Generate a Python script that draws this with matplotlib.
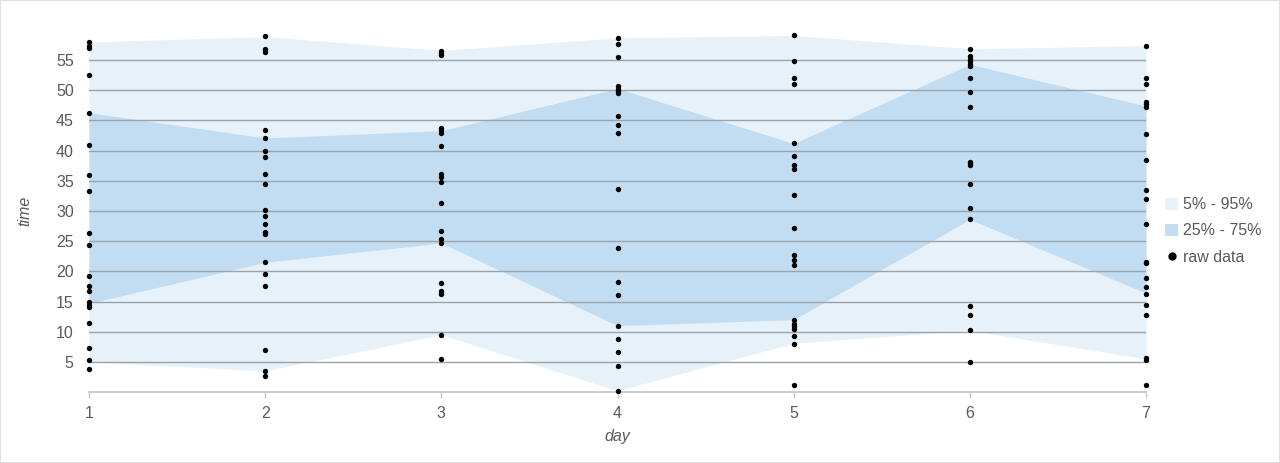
import numpy as np
import matplotlib
matplotlib.use("Agg")
import matplotlib.pyplot as plt
from matplotlib.patches import Patch
from matplotlib.lines import Line2D

plt.rcParams["font.family"] = ["Liberation Sans", "DejaVu Sans"]

days = [1, 2, 3, 4, 5, 6, 7]

# percentile bands
p05 = [5.0, 3.5, 9.5, 0.2, 8.1, 10.2, 5.5]
p25 = [14.7, 21.5, 24.7, 11.0, 12.0, 28.6, 16.4]
p75 = [46.3, 42.1, 43.3, 50.3, 41.2, 54.3, 47.4]
p95 = [58.0, 58.9, 56.6, 58.7, 59.1, 56.9, 57.4]

# raw measurements per day
raw_1 = [58.0, 57.4, 57.0, 52.6, 46.3, 41.0, 36.0, 33.3, 26.4, 24.3, 19.3,
         17.5, 16.8, 14.9, 14.5, 14.1, 11.5, 7.3, 5.3, 3.8]
raw_2 = [59.0, 56.8, 56.4, 43.4, 42.1, 39.9, 38.9, 36.2, 34.5, 30.2, 29.1,
         27.8, 26.5, 26.2, 21.5, 19.6, 17.6, 7.0, 3.4, 2.6]
raw_3 = [56.55, 56.2, 55.9, 43.7, 43.4, 42.96, 40.7, 36.2, 35.6, 34.8, 31.35,
         26.7, 25.4, 24.7, 18.1, 16.7, 16.3, 9.5, 5.55]
raw_4 = [58.7, 57.7, 55.5, 50.7, 50.25, 49.85, 49.5, 45.8, 44.2, 42.96, 33.7,
         23.8, 18.3, 16.1, 11.0, 8.86, 6.6, 4.3, 0.2]
raw_5 = [59.15, 54.8, 52.0, 51.0, 41.2, 39.15, 37.7, 36.9, 32.7, 27.2, 22.7,
         21.8, 21.1, 11.96, 11.35, 10.9, 10.47, 9.3, 8.0, 1.1]
raw_6 = [56.9, 55.7, 55.2, 54.8, 54.4, 54.1, 52.0, 49.75, 47.2, 38.2, 38.0,
         37.7, 34.5, 30.5, 28.6, 14.3, 12.8, 10.2, 5.0]
raw_7 = [57.4, 52.0, 51.0, 48.0, 47.7, 47.3, 42.7, 38.4, 33.4, 32.0, 27.8,
         21.6, 21.3, 18.9, 17.4, 16.2, 14.45, 12.7, 5.66, 5.3, 1.1]
raw = [raw_1, raw_2, raw_3, raw_4, raw_5, raw_6, raw_7]

light = "#e6f1fa"
mid = "#c2ddf1"
grid_c = "#9aa3ab"
text_c = "#595959"

fig = plt.figure(figsize=(12.8, 4.63), dpi=100)
ax = fig.add_axes([89 / 1280, 71 / 463, (1146 - 89) / 1280, (392 - 30) / 463])

ax.fill_between(days, p05, p95, color=light, lw=0, zorder=1)
ax.fill_between(days, p25, p75, color=mid, lw=0, zorder=2)

for y in range(5, 60, 5):
    ax.axhline(y, color=grid_c, lw=1, zorder=3)

for d, vals in zip(days, raw):
    ax.scatter([d] * len(vals), vals, s=15, color="black", lw=0, zorder=4,
               clip_on=False)

ax.set_xlim(1, 7)
ax.set_ylim(0, 60)
ax.set_xticks(days)
ax.set_yticks(range(5, 60, 5))
for s in ["top", "right", "left"]:
    ax.spines[s].set_visible(False)
ax.spines["bottom"].set_color("#c4c8cc")
ax.spines["bottom"].set_linewidth(1.3)
ax.tick_params(axis="x", colors="#c4c8cc", length=4, width=1, labelcolor=text_c,
               labelsize=11.5, pad=6)
ax.tick_params(axis="y", length=0, labelcolor=text_c, labelsize=11.5, pad=11)

ax.set_xlabel("day", style="italic", color=text_c, fontsize=11.5, labelpad=6)
ax.set_ylabel("time", style="italic", color=text_c, fontsize=11.5, labelpad=17)

handles = [
    Patch(facecolor=light, edgecolor="none", label="5% - 95%"),
    Patch(facecolor=mid, edgecolor="none", label="25% - 75%"),
    Line2D([], [], marker="o", ls="none", color="black", markersize=5,
           label="raw data"),
]
leg = fig.legend(handles=handles, loc="center left",
                 bbox_to_anchor=(1151 / 1280, 1 - 231 / 463), frameon=False,
                 fontsize=11.5, handlelength=0.8, handleheight=0.8,
                 handletextpad=0.3, labelspacing=0.7)
for t in leg.get_texts():
    t.set_color(text_c)

fig.patches.append(plt.Rectangle((0, 0), 1, 1, transform=fig.transFigure,
                                 fill=False, edgecolor="#e0e0e0", lw=1.5))

fig.savefig("out.png", dpi=100)
plt.close(fig)
